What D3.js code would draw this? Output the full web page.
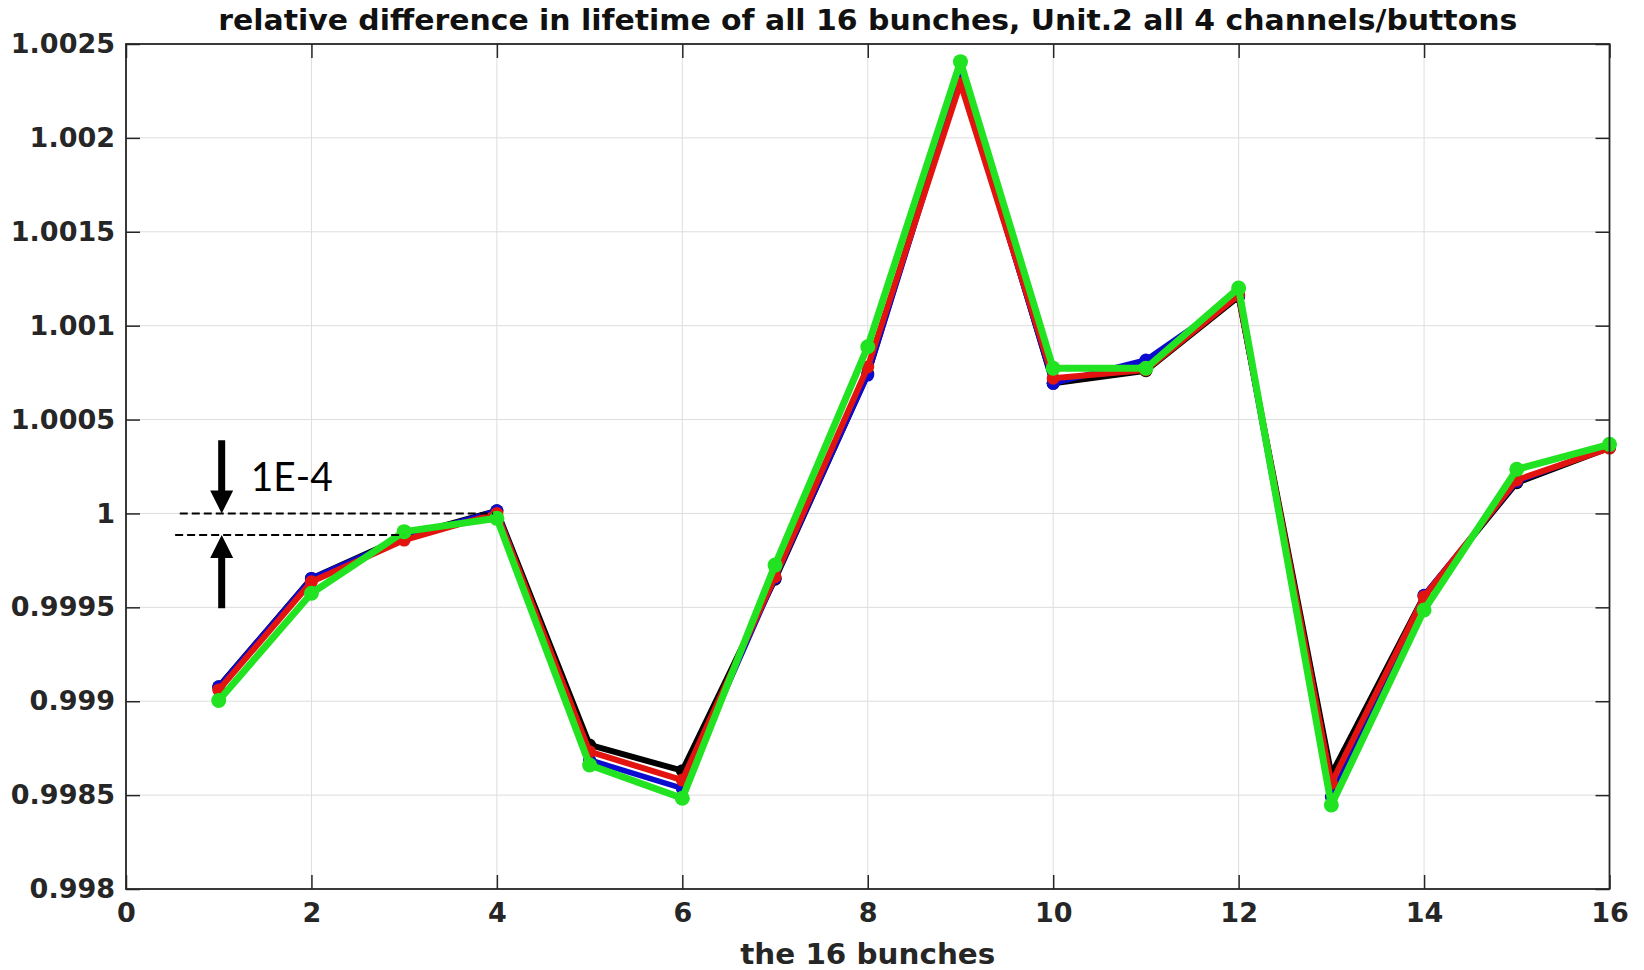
<!DOCTYPE html>
<html>
<head>
<meta charset="utf-8">
<script src="https://cdn.jsdelivr.net/npm/d3@7"></script>
<style>
  html, body { margin: 0; padding: 0; background: #fff; }
  svg { display: block; }
</style>
</head>
<body>
<svg id="chart" width="1644" height="970"></svg>
<script>
// Bunch numbers (x) and the relative lifetime of each bunch for the four channels
const bunches = [1, 2, 3, 4, 5, 6, 7, 8, 9, 10, 11, 12, 13, 14, 15, 16];

const channelBlack = [0.999077, 0.999654, 0.999876, 1.000014, 0.998767, 0.998630, 0.999650, 1.000745,
                      1.002340, 1.000693, 1.000760, 1.001154, 0.998610, 0.999560, 1.000164, 1.000350];
const channelBlue  = [0.999077, 0.999654, 0.999870, 1.000014, 0.998687, 0.998536, 0.999655, 1.000737,
                      1.002320, 1.000693, 1.000817, 1.001160, 0.998490, 0.999565, 1.000170, 1.000355];
const channelRed   = [0.999060, 0.999636, 0.999858, 1.000000, 0.998731, 0.998580, 0.999663, 1.000780,
                      1.002290, 1.000720, 1.000764, 1.001163, 0.998563, 0.999557, 1.000178, 1.000348];
const channelGreen = [0.999004, 0.999575, 0.999903, 0.999974, 0.998660, 0.998483, 0.999725, 1.000888,
                      1.002406, 1.000773, 1.000773, 1.001200, 0.998447, 0.999486, 1.000235, 1.000368];

const xTicks = [0, 2, 4, 6, 8, 10, 12, 14, 16];
const yTicks = [0.998, 0.9985, 0.999, 0.9995, 1, 1.0005, 1.001, 1.0015, 1.002, 1.0025];
const yTickLabels = ["0.998", "0.9985", "0.999", "0.9995", "1", "1.0005", "1.001", "1.0015", "1.002", "1.0025"];

const titleText = "relative difference in lifetime of all 16 bunches, Unit.2 all 4 channels/buttons";
const xLabelText = "the 16 bunches";

// 1E-4 scale bar: two dashed reference levels with arrows
const refLevels = [
  { value: 1.0, from: 0.58, to: 3.96 },
  { value: 0.999885, from: 0.53, to: 2.99 }
];
const arrowX = 1.032;
const arrowDown = { tail: 1.00039, tip: 1.0 };
const arrowUp = { tail: 0.999495, tip: 0.999885 };
const scaleBarLabel = { text: "1E-4", x: 1.345, y: 1.000119 };

// ---- layout
const svg = d3.select("#chart");
const L = 126, R = 1609.5, T = 44, B = 889;
const x = d3.scaleLinear().domain([0, 16]).range([L, R]);
const y = d3.scaleLinear().domain([0.998, 1.0025]).range([B, T]);

const axisColor = "#262626";
const fontFamily = "'DejaVu Sans', sans-serif";

// grid
const grid = svg.append("g").attr("stroke", "#dedede").attr("stroke-width", 1);
grid.selectAll("line.gx").data(xTicks).join("line")
  .attr("x1", d => x(d)).attr("x2", d => x(d)).attr("y1", T).attr("y2", B);
grid.selectAll("line.gy").data(yTicks).join("line")
  .attr("y1", d => y(d)).attr("y2", d => y(d)).attr("x1", L).attr("x2", R);

// series
const series = [
  { values: channelBlack, color: "#000000", width: 6,   r: 6.5 },
  { values: channelBlue,  color: "#0c0cd0", width: 5.5, r: 6.5 },
  { values: channelRed,   color: "#e3140f", width: 6,   r: 6.5 },
  { values: channelGreen, color: "#22e322", width: 7,   r: 7.5 }
];
const line = d3.line().x((d, i) => x(bunches[i])).y(d => y(d));
const seriesG = svg.append("g");
series.forEach(s => {
  const g = seriesG.append("g");
  g.append("path").attr("d", line(s.values))
    .attr("fill", "none").attr("stroke", s.color).attr("stroke-width", s.width)
    .attr("stroke-linejoin", "round").attr("stroke-linecap", "round");
  g.selectAll("circle").data(s.values).join("circle")
    .attr("cx", (d, i) => x(bunches[i])).attr("cy", d => y(d)).attr("r", s.r)
    .attr("fill", s.color);
});

// axes (ticks point inward, box on all four sides)
const tickLen = 14;
const fmtY = d => yTickLabels[yTicks.indexOf(d)];
const styleAxis = g => {
  g.select(".domain").remove();
  g.selectAll(".tick line").attr("stroke", axisColor).attr("stroke-width", 1.5);
  g.selectAll(".tick text").attr("fill", axisColor)
    .attr("font-family", fontFamily).attr("font-weight", "bold").attr("font-size", 27);
};
svg.append("g").attr("transform", `translate(0,${B})`)
  .call(d3.axisBottom(x).tickValues(xTicks).tickFormat(d3.format("d"))
    .tickSizeInner(-tickLen).tickSizeOuter(0).tickPadding(14))
  .call(styleAxis);
svg.append("g").attr("transform", `translate(${L},0)`)
  .call(d3.axisLeft(y).tickValues(yTicks).tickFormat(fmtY)
    .tickSizeInner(-tickLen).tickSizeOuter(0).tickPadding(11))
  .call(styleAxis);
svg.append("g").attr("transform", `translate(0,${T})`)
  .call(d3.axisTop(x).tickValues(xTicks).tickFormat("")
    .tickSizeInner(-tickLen).tickSizeOuter(0))
  .call(styleAxis);
svg.append("g").attr("transform", `translate(${R},0)`)
  .call(d3.axisRight(y).tickValues(yTicks).tickFormat("")
    .tickSizeInner(-tickLen).tickSizeOuter(0))
  .call(styleAxis);
svg.append("rect").attr("x", L).attr("y", T).attr("width", R - L).attr("height", B - T)
  .attr("fill", "none").attr("stroke", axisColor).attr("stroke-width", 1.8);

// title and axis label
svg.append("text").attr("x", (L + R) / 2).attr("y", 30)
  .attr("text-anchor", "middle").attr("font-family", fontFamily)
  .attr("font-weight", "bold").attr("font-size", 28).attr("fill", "#111")
  .attr("textLength", 1299).attr("lengthAdjust", "spacingAndGlyphs")
  .text(titleText);
svg.append("text").attr("x", (L + R) / 2).attr("y", 964)
  .attr("text-anchor", "middle").attr("font-family", fontFamily)
  .attr("font-weight", "bold").attr("font-size", 28).attr("fill", axisColor)
  .attr("textLength", 255).attr("lengthAdjust", "spacingAndGlyphs")
  .text(xLabelText);

// scale bar annotation
const ann = svg.append("g");
ann.selectAll("line.ref").data(refLevels).join("line")
  .attr("x1", d => x(d.from)).attr("x2", d => x(d.to))
  .attr("y1", d => y(d.value)).attr("y2", d => y(d.value))
  .attr("stroke", "#000").attr("stroke-width", 2).attr("stroke-dasharray", "8,4");

function arrowPath(xv, tailV, tipV) {
  const ax = x(xv), yTail = y(tailV), yTip = y(tipV);
  const dir = Math.sign(yTip - yTail);
  const headLen = 23, headHalf = 11.5, shaftHalf = 3.5;
  const yBase = yTip - dir * headLen;
  return `M${ax - shaftHalf},${yTail} L${ax + shaftHalf},${yTail} L${ax + shaftHalf},${yBase}` +
         ` L${ax + headHalf},${yBase} L${ax},${yTip} L${ax - headHalf},${yBase}` +
         ` L${ax - shaftHalf},${yBase} Z`;
}
ann.append("path").attr("d", arrowPath(arrowX, arrowDown.tail, arrowDown.tip)).attr("fill", "#000");
ann.append("path").attr("d", arrowPath(arrowX, arrowUp.tail, arrowUp.tip)).attr("fill", "#000");
ann.append("text").attr("x", x(scaleBarLabel.x)).attr("y", y(scaleBarLabel.y))
  .attr("font-family", "Lato, 'Open Sans', sans-serif").attr("font-size", 40).attr("fill", "#000")
  .attr("textLength", 82).attr("lengthAdjust", "spacingAndGlyphs")
  .text(scaleBarLabel.text);
</script>
</body>
</html>
